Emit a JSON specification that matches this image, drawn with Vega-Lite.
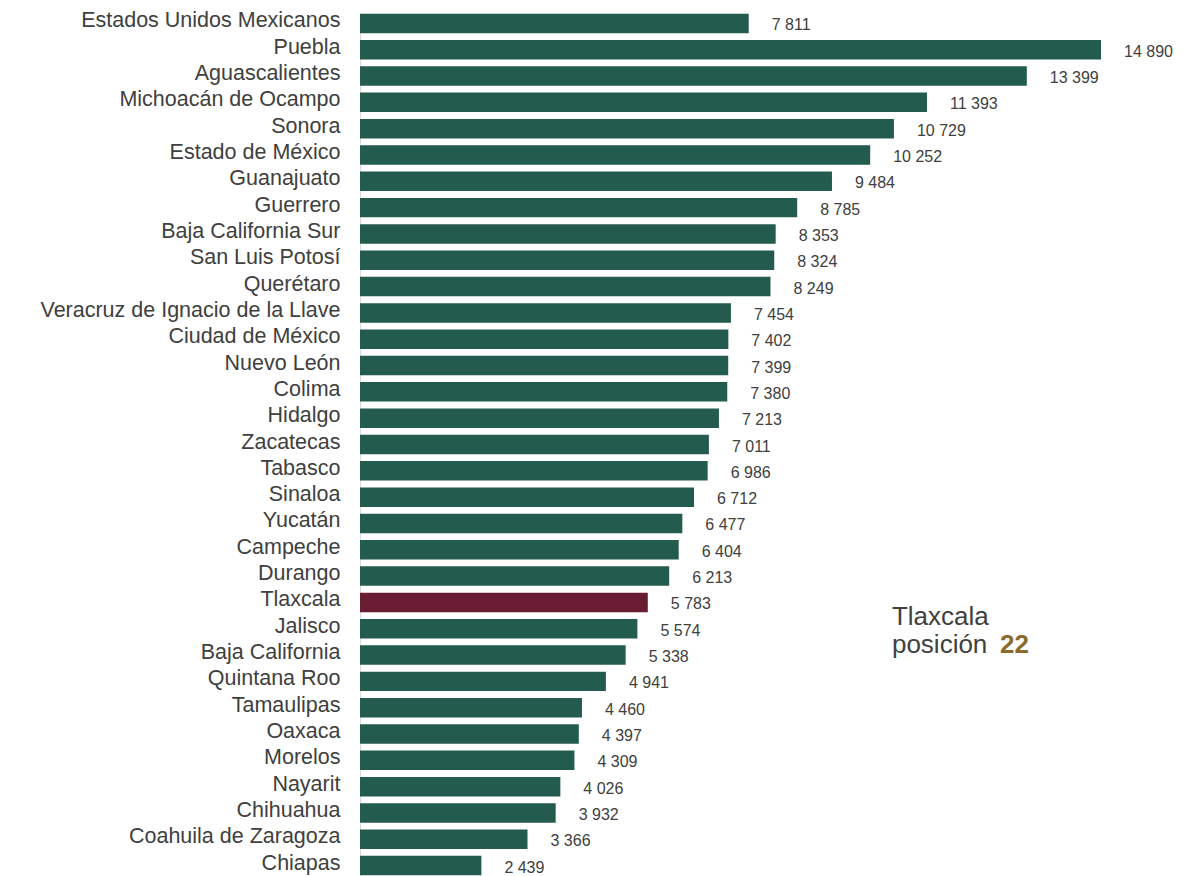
{
  "$schema": "https://vega.github.io/schema/vega-lite/v6.json",
  "autosize": {"type": "none"},
  "padding": {"left": 360, "top": 13, "right": 86, "bottom": 0},
  "width": 741,
  "height": 863,
  "background": "white",
  "config": {
    "view": {"stroke": null},
    "font": "Liberation Sans",
    "locale": {"number": {"decimal": ".", "thousands": " ", "grouping": [3], "currency": ["$", ""]}}
  },
  "data": {
    "values": [
      {"estado": "Estados Unidos Mexicanos", "valor": 7811},
      {"estado": "Puebla", "valor": 14890},
      {"estado": "Aguascalientes", "valor": 13399},
      {"estado": "Michoacán de Ocampo", "valor": 11393},
      {"estado": "Sonora", "valor": 10729},
      {"estado": "Estado de México", "valor": 10252},
      {"estado": "Guanajuato", "valor": 9484},
      {"estado": "Guerrero", "valor": 8785},
      {"estado": "Baja California Sur", "valor": 8353},
      {"estado": "San Luis Potosí", "valor": 8324},
      {"estado": "Querétaro", "valor": 8249},
      {"estado": "Veracruz de Ignacio de la Llave", "valor": 7454},
      {"estado": "Ciudad de México", "valor": 7402},
      {"estado": "Nuevo León", "valor": 7399},
      {"estado": "Colima", "valor": 7380},
      {"estado": "Hidalgo", "valor": 7213},
      {"estado": "Zacatecas", "valor": 7011},
      {"estado": "Tabasco", "valor": 6986},
      {"estado": "Sinaloa", "valor": 6712},
      {"estado": "Yucatán", "valor": 6477},
      {"estado": "Campeche", "valor": 6404},
      {"estado": "Durango", "valor": 6213},
      {"estado": "Tlaxcala", "valor": 5783},
      {"estado": "Jalisco", "valor": 5574},
      {"estado": "Baja California", "valor": 5338},
      {"estado": "Quintana Roo", "valor": 4941},
      {"estado": "Tamaulipas", "valor": 4460},
      {"estado": "Oaxaca", "valor": 4397},
      {"estado": "Morelos", "valor": 4309},
      {"estado": "Nayarit", "valor": 4026},
      {"estado": "Chihuahua", "valor": 3932},
      {"estado": "Coahuila de Zaragoza", "valor": 3366},
      {"estado": "Chiapas", "valor": 2439}
    ]
  },
  "layer": [
    {
      "mark": {"type": "bar"},
      "encoding": {
        "y": {
          "field": "estado",
          "type": "nominal",
          "sort": null,
          "scale": {"paddingInner": 0.26, "paddingOuter": 0.025},
          "axis": {
            "title": null,
            "ticks": false,
            "domain": true,
            "domainColor": "#d9d9d9",
            "domainWidth": 1,
            "labelPadding": 20,
            "labelFontSize": 21.5,
            "labelOffset": -2,
            "labelColor": "#404040",
            "labelFont": "Liberation Sans",
            "labelLimit": 400
          }
        },
        "x": {
          "field": "valor",
          "type": "quantitative",
          "scale": {"domain": [0, 14890], "nice": false, "zero": true},
          "axis": null
        },
        "color": {
          "condition": {"test": "datum.estado === 'Tlaxcala'", "value": "#691C32"},
          "value": "#235B4E"
        }
      }
    },
    {
      "mark": {"type": "text", "align": "left", "baseline": "middle", "dx": 23, "dy": 2, "fontSize": 16, "color": "#404040"},
      "encoding": {
        "y": {"field": "estado", "type": "nominal", "sort": null},
        "x": {"field": "valor", "type": "quantitative"},
        "text": {"field": "valor", "type": "quantitative", "format": ",d"}
      }
    },
    {
      "data": {"values": [{"estado": "Tlaxcala", "linea1": "Tlaxcala", "linea2": "posición", "pos": "22", "xa": 10689}]},
      "layer": [
        {
          "mark": {"type": "text", "align": "left", "baseline": "alphabetic", "dy": 23, "fontSize": 26, "color": "#404040"},
          "encoding": {
            "x": {"field": "xa", "type": "quantitative"},
            "y": {"field": "estado", "type": "nominal", "sort": null},
            "text": {"field": "linea1", "type": "nominal"}
          }
        },
        {
          "mark": {"type": "text", "align": "left", "baseline": "alphabetic", "dy": 51, "fontSize": 26, "color": "#404040"},
          "encoding": {
            "x": {"field": "xa", "type": "quantitative"},
            "y": {"field": "estado", "type": "nominal", "sort": null},
            "text": {"field": "linea2", "type": "nominal"}
          }
        },
        {
          "mark": {"type": "text", "align": "left", "baseline": "alphabetic", "dx": 108, "dy": 51, "fontSize": 26, "fontWeight": "bold", "color": "#8B6A2E"},
          "encoding": {
            "x": {"field": "xa", "type": "quantitative"},
            "y": {"field": "estado", "type": "nominal", "sort": null},
            "text": {"field": "pos", "type": "nominal"}
          }
        }
      ]
    }
  ]
}
